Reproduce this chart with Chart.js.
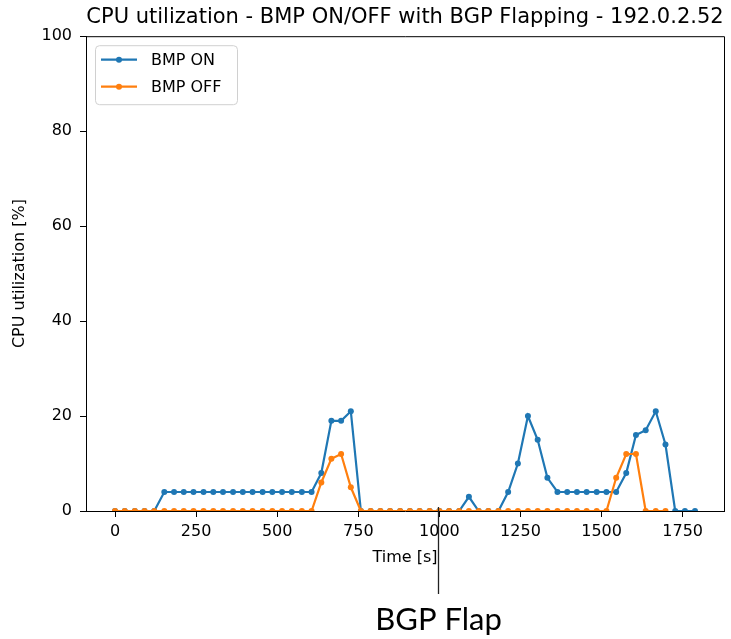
<!DOCTYPE html>
<html>
<head>
<meta charset="utf-8">
<script src="https://cdn.jsdelivr.net/npm/chart.js@4.4.1/dist/chart.umd.min.js"></script>
<style>
  body { margin: 0; background: #fff; }
  canvas { display: block; }
</style>
</head>
<body>
<canvas id="cpuChart" width="731" height="639"></canvas>
<script>
// sample times in seconds (one sample roughly every 30 s)
const times = [
  0, 30, 61, 91, 121, 152, 182, 212, 242, 273,
  303, 333, 364, 394, 424, 455, 485, 515, 545, 576,
  606, 636, 667, 697, 727, 758, 788, 818, 848, 879,
  909, 939, 970, 1000, 1030, 1061, 1091, 1121, 1151, 1182,
  1212, 1242, 1273, 1303, 1333, 1364, 1394, 1424, 1454, 1485,
  1515, 1545, 1576, 1606, 1636, 1667, 1697, 1727, 1757, 1788
];

const bmpOn = [
  0, 0, 0, 0, 0, 4, 4, 4, 4, 4,
  4, 4, 4, 4, 4, 4, 4, 4, 4, 4,
  4, 8, 19, 19, 21, 0, 0, 0, 0, 0,
  0, 0, 0, 0, 0, 0, 3, 0, 0, 0,
  4, 10, 20, 15, 7, 4, 4, 4, 4, 4,
  4, 4, 8, 16, 17, 21, 14, 0, 0, 0
];

const bmpOff = [
  0, 0, 0, 0, 0, 0, 0, 0, 0, 0,
  0, 0, 0, 0, 0, 0, 0, 0, 0, 0,
  0, 6, 11, 12, 5, 0, 0, 0, 0, 0,
  0, 0, 0, 0, 0, 0, 0, 0, 0, 0,
  0, 0, 0, 0, 0, 0, 0, 0, 0, 0,
  0, 7, 12, 12, 0, 0, 0
];

const xTicks = [0, 250, 500, 750, 1000, 1250, 1500, 1750];
const yTicks = [0, 20, 40, 60, 80, 100];
const flapTime = 995;

const BLUE = "#1f77b4";
const ORANGE = "#ff7f0e";

Chart.defaults.font.family = "'DejaVu Sans', sans-serif";
Chart.defaults.font.size = 16;
Chart.defaults.color = "#000";

function toPoints(values) {
  return values.map((v, i) => ({ x: times[i], y: v }));
}

// top/right frame, legend inside the axes and the "BGP Flap" note below
const extras = {
  id: "extras",
  afterDraw(chart) {
    const ctx = chart.ctx;
    const a = chart.chartArea;
    ctx.save();

    ctx.strokeStyle = "#000";
    ctx.lineWidth = 1;
    ctx.beginPath();
    ctx.moveTo(a.left, a.top + 0.5);
    ctx.lineTo(a.right + 0.5, a.top + 0.5);
    ctx.lineTo(a.right + 0.5, a.bottom);
    ctx.stroke();

    // legend
    const lx = a.left + 9, ly = a.top + 9;
    ctx.fillStyle = "rgba(255,255,255,0.8)";
    ctx.strokeStyle = "#d0d0d0";
    ctx.beginPath();
    ctx.roundRect(lx + 0.5, ly + 0.5, 142, 59, 4);
    ctx.fill();
    ctx.stroke();

    const items = [["BMP ON", BLUE], ["BMP OFF", ORANGE]];
    items.forEach(([label, color], i) => {
      const y = ly + 14.5 + i * 27;
      ctx.strokeStyle = color;
      ctx.lineWidth = 2.2;
      ctx.beginPath();
      ctx.moveTo(lx + 6, y);
      ctx.lineTo(lx + 42, y);
      ctx.stroke();
      ctx.fillStyle = color;
      ctx.beginPath();
      ctx.arc(lx + 24, y, 3, 0, Math.PI * 2);
      ctx.fill();
      ctx.fillStyle = "#000";
      ctx.font = "16px 'DejaVu Sans'";
      ctx.textBaseline = "middle";
      ctx.fillText(label, lx + 56, y + 1);
    });

    // BGP flap marker
    const fx = Math.round(chart.scales.x.getPixelForValue(flapTime)) + 0.5;
    ctx.strokeStyle = "#222";
    ctx.lineWidth = 1.3;
    ctx.beginPath();
    ctx.moveTo(fx, a.bottom - 4);
    ctx.lineTo(fx, a.bottom + 83);
    ctx.stroke();

    ctx.fillStyle = "#000";
    ctx.font = "31px Lato";
    ctx.textAlign = "center";
    ctx.textBaseline = "alphabetic";
    ctx.fillText("BGP Flap", fx, 630);

    ctx.restore();
  }
};

new Chart(document.getElementById("cpuChart"), {
  type: "line",
  data: {
    datasets: [
      {
        label: "BMP ON",
        data: toPoints(bmpOn),
        borderColor: BLUE,
        backgroundColor: BLUE,
        borderWidth: 2.2,
        pointRadius: 3,
        pointBorderWidth: 0,
        pointBackgroundColor: BLUE,
        tension: 0,
        order: 1
      },
      {
        label: "BMP OFF",
        data: toPoints(bmpOff),
        borderColor: ORANGE,
        backgroundColor: ORANGE,
        borderWidth: 2.2,
        pointRadius: 3,
        pointBorderWidth: 0,
        pointBackgroundColor: ORANGE,
        tension: 0,
        order: 0
      }
    ]
  },
  options: {
    responsive: false,
    devicePixelRatio: 1,
    animation: false,
    layout: { padding: { left: 0, right: 7, top: 0, bottom: 0 } },
    plugins: {
      legend: { display: false },
      tooltip: { enabled: false },
      title: {
        display: true,
        fullSize: false,
        text: "CPU utilization - BMP ON/OFF with BGP Flapping - 192.0.2.52",
        font: { size: 21, weight: "normal" },
        color: "#000",
        padding: { top: 5, bottom: 6 }
      }
    },
    scales: {
      x: {
        type: "linear",
        min: -89.4,
        max: 1877.4,
        afterBuildTicks: s => { s.ticks = xTicks.map(v => ({ value: v })); },
        afterFit: s => { s.height = 128; },
        grid: { drawOnChartArea: false, tickLength: 6, color: "#000", tickColor: "#000" },
        border: { color: "#000", width: 1 },
        ticks: { padding: 5, maxRotation: 0, autoSkip: false, callback: v => String(v) },
        title: { display: true, text: "Time [s]", padding: { top: 0, bottom: 72 } }
      },
      y: {
        min: 0,
        max: 100,
        afterBuildTicks: s => { s.ticks = yTicks.map(v => ({ value: v })); },
        afterFit: s => { s.width = 86; },
        grid: { drawOnChartArea: false, tickLength: 6, color: "#000", tickColor: "#000" },
        border: { color: "#000", width: 1 },
        ticks: { padding: 8, callback: v => String(v) },
        title: { display: true, text: "CPU utilization [%]", padding: { top: 10, bottom: 0 } }
      }
    }
  },
  plugins: [extras]
});
</script>
</body>
</html>
